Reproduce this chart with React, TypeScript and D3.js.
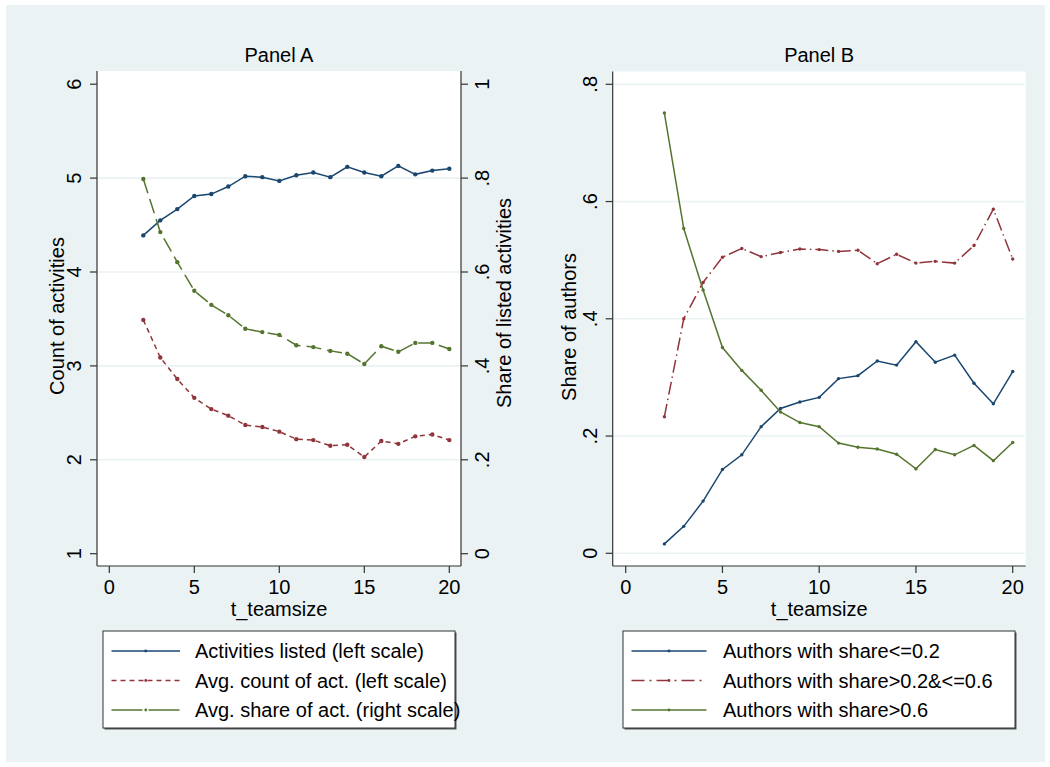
import React from 'react';
import * as d3 from 'd3';

// team size on the x axis
const teamSize = [2, 3, 4, 5, 6, 7, 8, 9, 10, 11, 12, 13, 14, 15, 16, 17, 18, 19, 20];

// Panel A
const activitiesListed = [4.39, 4.55, 4.67, 4.81, 4.83, 4.91, 5.02, 5.01, 4.97, 5.03, 5.06, 5.01, 5.12, 5.06, 5.02, 5.13, 5.04, 5.08, 5.10];
const avgCount = [3.49, 3.09, 2.86, 2.66, 2.54, 2.47, 2.37, 2.35, 2.30, 2.22, 2.21, 2.15, 2.16, 2.03, 2.20, 2.17, 2.25, 2.27, 2.21];
const avgShare = [0.798, 0.685, 0.621, 0.560, 0.530, 0.508, 0.479, 0.472, 0.466, 0.444, 0.440, 0.432, 0.426, 0.404, 0.442, 0.430, 0.449, 0.449, 0.436];

// Panel B
const shareLow = [0.016, 0.046, 0.089, 0.143, 0.168, 0.216, 0.247, 0.258, 0.266, 0.298, 0.303, 0.328, 0.321, 0.361, 0.326, 0.338, 0.290, 0.255, 0.310];
const shareMid = [0.233, 0.400, 0.462, 0.505, 0.520, 0.506, 0.513, 0.519, 0.518, 0.515, 0.517, 0.494, 0.510, 0.495, 0.498, 0.495, 0.525, 0.587, 0.502];
const shareHigh = [0.751, 0.554, 0.449, 0.351, 0.312, 0.278, 0.241, 0.223, 0.216, 0.188, 0.181, 0.178, 0.169, 0.144, 0.177, 0.168, 0.184, 0.158, 0.189];

const xTicks = [0, 5, 10, 15, 20];
const leftTicksA = [1, 2, 3, 4, 5, 6];
const rightTicksA = [0, 0.2, 0.4, 0.6, 0.8, 1];
const ticksB = [0, 0.2, 0.4, 0.6, 0.8];

const legendA = ['Activities listed (left scale)', 'Avg. count of act. (left scale)', 'Avg. share of act. (right scale)'];
const legendB = ['Authors with share<=0.2', 'Authors with share>0.2&<=0.6', 'Authors with share>0.6'];

const NAVY = '#1a476f';
const MAROON = '#90353b';
const GREEN = '#55752f';
const BG = '#eaf2f3';
const FONT = '"Liberation Sans", Arial, Helvetica, sans-serif';
const FS = 20;

// stata style labels: 0.2 -> .2
const fmt = (v: number) => {
  if (v === 0 || v === 1) return String(v);
  const s = String(+v.toFixed(2));
  return s.startsWith('0.') ? s.slice(1) : s;
};

function App() {
  // panel A geometry
  const A = { left: 97, right: 461, top: 71, bottom: 566 };
  const xA = d3.scaleLinear().domain([0, 20]).range([109.3, 449.3]);
  const yA = d3.scaleLinear().domain([1, 6]).range([553.7, 84.2]);
  const yA2 = d3.scaleLinear().domain([0, 1]).range([553.7, 84.2]);

  // panel B geometry
  const B = { left: 612.7, right: 1025.7, top: 71.5, bottom: 566 };
  const xB = d3.scaleLinear().domain([0, 20]).range([625.7, 1012.7]);
  const yB = d3.scaleLinear().domain([0, 0.8]).range([553.3, 84.3]);

  const lineOf = (xs: any, ys: any, vals: number[]) =>
    d3.line<number>().x((_, i) => xs(teamSize[i])).y((d) => ys(d))(vals) || '';

  const seriesA = [
    { vals: activitiesListed, y: yA, color: NAVY, dash: 'none' },
    { vals: avgCount, y: yA, color: MAROON, dash: '5,4' },
    { vals: avgShare, y: yA2, color: GREEN, dash: '15,6' },
  ];
  const seriesB = [
    { vals: shareLow, color: NAVY, dash: 'none' },
    { vals: shareMid, color: MAROON, dash: '13,4,1.5,4' },
    { vals: shareHigh, color: GREEN, dash: 'none' },
  ];
  const legendDashA = ['none', '5,4', '31,6'];
  const legendDashB = ['none', '13,5,2,5', 'none'];

  const xAxis = (xs: any, P: any) => (
    <g>
      <line x1={P.left} x2={P.right} y1={P.bottom} y2={P.bottom} stroke="#333" strokeWidth={1.2} />
      {xTicks.map((t) => (
        <g key={t}>
          <line x1={xs(t)} x2={xs(t)} y1={P.bottom} y2={P.bottom + 7} stroke="#333" strokeWidth={1.2} />
          <text x={xs(t)} y={593.5} textAnchor="middle" fontSize={FS}>{t}</text>
        </g>
      ))}
      <text x={(P.left + P.right) / 2} y={615.5} textAnchor="middle" fontSize={FS}>t_teamsize</text>
    </g>
  );

  const yAxis = (ys: any, ticks: number[], axisX: number, dir: number, labelX: number, P: any, grid: number[]) => (
    <g>
      {grid.map((t) => (
        <line key={'g' + t} x1={P.left + 1} x2={P.right - 1} y1={ys(t)} y2={ys(t)} stroke={BG} strokeWidth={1.6} />
      ))}
      <line x1={axisX} x2={axisX} y1={P.top} y2={P.bottom} stroke="#333" strokeWidth={1.2} />
      {ticks.map((t) => (
        <g key={t}>
          <line x1={axisX} x2={axisX + dir * 7} y1={ys(t)} y2={ys(t)} stroke="#333" strokeWidth={1.2} />
          <text transform={`translate(${labelX},${ys(t)}) rotate(-90)`} textAnchor="middle" fontSize={FS}>{fmt(t)}</text>
        </g>
      ))}
    </g>
  );

  const marks = (xs: any, ys: any, vals: number[], color: string, r: number) =>
    vals.map((v, i) => <circle key={i} cx={xs(teamSize[i])} cy={ys(v)} r={r} fill={color} />);

  const legend = (x: number, w: number, labels: string[], colors: string[], dashes: string[], lx1: number, lx2: number, tx: number) => (
    <g>
      <rect x={x + 1.5} y={632.5} width={w} height={97} fill="#555" />
      <rect x={x} y={631} width={w} height={97} fill="#fff" stroke="#333" strokeWidth={1} />
      {labels.map((l, i) => {
        const cy = 651 + i * 29.5;
        return (
          <g key={l}>
            <line x1={lx1} x2={lx2} y1={cy} y2={cy} stroke={colors[i]} strokeWidth={1.3} strokeDasharray={dashes[i]} />
            <circle cx={(lx1 + lx2) / 2} cy={cy} r={1.4} fill={colors[i]} />
            <text x={tx} y={cy + 7} fontSize={FS}>{l}</text>
          </g>
        );
      })}
    </g>
  );

  return (
    <svg width={1050} height={767} style={{ position: 'absolute', left: 0, top: 0 }} fontFamily={FONT} fill="#000">
      <rect x={0} y={0} width={1050} height={767} fill="#fff" />
      <rect x={6} y={5} width={1039} height={757} fill={BG} />

      {/* Panel A */}
      <rect x={A.left} y={A.top} width={A.right - A.left} height={A.bottom - A.top} fill="#fff" />
      <text x={(A.left + A.right) / 2} y={62} textAnchor="middle" fontSize={FS}>Panel A</text>
      {yAxis(yA, leftTicksA, A.left, -1, 81, A, [2, 3, 4, 5])}
      {yAxis(yA2, rightTicksA, A.right, 1, 488.5, A, [])}
      {xAxis(xA, A)}
      <text transform="translate(63.5,316) rotate(-90)" textAnchor="middle" fontSize={FS}>Count of activities</text>
      <text transform="translate(510.5,303) rotate(-90)" textAnchor="middle" fontSize={FS}>Share of listed activities</text>
      {seriesA.map((s, k) => (
        <g key={k}>
          <path d={lineOf(xA, s.y, s.vals)} fill="none" stroke={s.color} strokeWidth={1.5} strokeDasharray={s.dash} />
          {marks(xA, s.y, s.vals, s.color, 2.2)}
        </g>
      ))}
      {legend(103, 352, legendA, [NAVY, MAROON, GREEN], legendDashA, 111.5, 180, 195)}

      {/* Panel B */}
      <rect x={B.left} y={B.top} width={B.right - B.left} height={B.bottom - B.top} fill="#fff" />
      <text x={(B.left + B.right) / 2} y={62} textAnchor="middle" fontSize={FS}>Panel B</text>
      {yAxis(yB, ticksB, B.left, -1, 597, B, ticksB)}
      {xAxis(xB, B)}
      <text transform="translate(575.5,327) rotate(-90)" textAnchor="middle" fontSize={FS}>Share of authors</text>
      {seriesB.map((s, k) => (
        <g key={k}>
          <path d={lineOf(xB, yB, s.vals)} fill="none" stroke={s.color} strokeWidth={1.5} strokeDasharray={s.dash} />
          {marks(xB, yB, s.vals, s.color, 1.7)}
        </g>
      ))}
      {legend(623, 392, legendB, [NAVY, MAROON, GREEN], legendDashB, 631.5, 706.5, 723)}
    </svg>
  );
}

export default App;
